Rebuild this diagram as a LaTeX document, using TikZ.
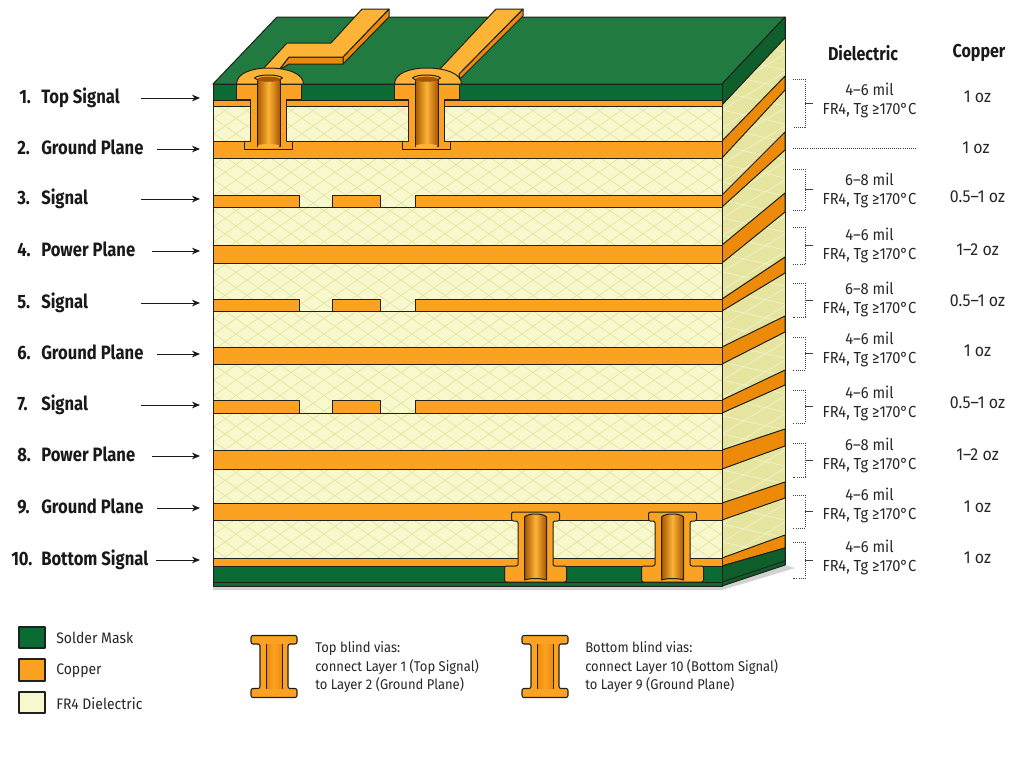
\documentclass[tikz,border=0pt]{standalone}
\usepackage{fontspec}
\setmainfont[FakeStretch=0.92,BoldFeatures={FakeStretch=0.86}]{Fira Sans}
\usetikzlibrary{calc,arrows.meta}
\definecolor{maskfront}{HTML}{0B6B34}
\definecolor{masktop}{HTML}{217B41}
\definecolor{maskside}{HTML}{0F5F2C}
\definecolor{coppercol}{HTML}{FBA222}
\definecolor{copperside}{HTML}{EE8A0A}
\definecolor{copperlight}{HTML}{FDB436}
\definecolor{copperdark}{HTML}{A85500}
\definecolor{fr4front}{HTML}{F8F8CE}
\definecolor{fr4side}{HTML}{E5E5A0}
\definecolor{hatchfront}{HTML}{E6E69E}
\definecolor{hatchside}{HTML}{F2F2C8}
\definecolor{edgecol}{HTML}{1E221A}
\tikzset{
  edge/.style={draw=edgecol,line width=0.75pt,line join=round},
  layerlab/.style={anchor=west,inner sep=0pt,text height=11pt,text depth=3pt,font=\fontsize{14.5}{17}\selectfont\bfseries,text=black!90},
  layerarrow/.style={-{Stealth[length=6pt,width=5pt]},line width=0.65pt,black!90},
  infotext/.style={inner sep=0pt,align=center,text=black!85,font=\fontsize{12}{14.2}\selectfont},
  cutext/.style={inner sep=0pt,text=black!85,font=\fontsize{13}{15}\selectfont},
  headtext/.style={inner sep=0pt,text=black!90,font=\fontsize{14}{16}\selectfont\bfseries},
  legtext/.style={anchor=west,inner sep=0pt,align=left,text=black!85,font=\fontsize{10.6}{14.2}\selectfont},
  keytext/.style={anchor=west,inner sep=0pt,text=black!85,font=\fontsize{11.4}{14}\selectfont},
  swatch/.style={edge,line width=0.8pt},
  bracketline/.style={densely dotted,line width=0.55pt,black!75}
}
\begin{document}
\begin{tikzpicture}[x=0.75pt,y=-0.75pt]
  \useasboundingbox (0,0) rectangle (1024,768);
  % shadow under the board
  \fill[gray!35] (213,586) -- (722,586) -- (785,565) -- (795,568) -- (722,590) -- (213,590) -- cycle;
  % top face and right side
  \fill[masktop,edge] (213,84) -- (277,17) -- (785,17) -- (722,84) -- cycle;
  \fill[fr4side] (722,84) -- (785,17) -- (785,565) -- (722,586) -- cycle;
  \begin{scope}
    \clip (722,84) -- (785,17) -- (785,565) -- (722,586) -- cycle;
    \foreach \y in {20,38,...,640} {
      \draw[hatchside,line width=0.55pt] (722,\y) -- (785,\y-38);
      \draw[hatchside,line width=0.55pt] (722,\y) -- (785,\y+14);
    }
  \end{scope}
  \fill[maskside,edge] (722,84) -- (785,17) -- (785,38) -- (722,105) -- cycle;
  \foreach \ya/\yb/\ra/\rb in {141/158/76/90,195/207/132/150,245/263/193/212,299/311/257/273,347/364/316/332,400/413/370/385,450/469/429/446,503/520/482/498,558/566/535/548}
    \fill[copperside,edge] (722,\ya) -- (785,\ra) -- (785,\rb) -- (722,\yb) -- cycle;
  \fill[maskside,edge] (722,566) -- (785,548) -- (785,565) -- (722,586) -- cycle;
  \draw[edge] (722,582) -- (785,561);
  \draw[edge] (785,17) -- (785,565);
  % front face
  \fill[fr4front] (213,84) rectangle (722,586);
  \begin{scope}
    \clip (213,84) rectangle (722,586);
    \foreach \x in {200,222,...,1440} {
      \draw[hatchfront,line width=0.55pt] (\x,586) -- (\x-717,84);
      \draw[hatchfront,line width=0.55pt] (\x-720,586) -- (\x-3,84);
    }
  \end{scope}
  \fill[maskfront,edge] (213,84) rectangle (722,100);
  \fill[maskfront,edge] (213,566) rectangle (722,586);
  \draw[edge] (213,582) -- (722,582);
  \foreach \ya/\yb in {100/106,141/158,245/263,347/364,450/469,503/520,558/566}
    \fill[coppercol,edge] (213,\ya) rectangle (722,\yb);
  \foreach \ya/\yb in {195/207,299/311,400/413} {
    \draw[edge] (299,\yb) -- (415,\yb);
    \fill[coppercol,edge] (213,\ya) rectangle (299,\yb);
    \fill[coppercol,edge] (332,\ya) rectangle (380,\yb);
    \fill[coppercol,edge] (415,\ya) rectangle (722,\yb);
  }
  \draw[edge] (213,84) rectangle (722,586);
  % traces on the top face
  \fill[copperside,edge] (389,9) -- (389,17) -- (343,64) -- (343,57) -- cycle;
  \fill[copperside,edge] (343,57) -- (343,64) -- (289,64) -- (279,70) -- (289,57) -- cycle;
  \fill[copperlight,edge] (262,70) -- (287,43) -- (331,43) -- (362,9) -- (389,9) -- (343,57) -- (289,57) -- (279,70) -- cycle;
  \fill[copperside,edge] (523,9) -- (523,16) -- (460,79) -- (459,74) -- cycle;
  \fill[copperlight,edge] (439,70) -- (496,9) -- (523,9) -- (459,74) -- (459,80) -- cycle;
  % top blind vias
  \foreach \vx in {268.5,426.5} {
    \fill[coppercol,edge] (\vx-32,84) -- (\vx+33,84) -- (\vx+33,99.5) -- (\vx+18,99.5) -- (\vx+18,141)
      -- (\vx+24,141) -- (\vx+24,149) -- (\vx-24,149) -- (\vx-24,141) -- (\vx-18,141)
      -- (\vx-18,99.5) -- (\vx-32,99.5) -- cycle;
    \fill[copperlight,edge] (\vx-32,84) .. controls (\vx-32,73) and (\vx-16,68) .. (\vx,68)
      .. controls (\vx+20,68) and (\vx+35,74) .. (\vx+35,84) -- cycle;
    \draw[edge,left color=copperdark,right color=copperdark,middle color=copperlight] (\vx-11.5,80) -- (\vx+11.5,80) -- (\vx+11.5,146) -- (\vx-11.5,146) -- cycle;
    \fill[copperlight] (\vx,146) ellipse (11 and 2);
    \fill[copperlight,edge] (\vx-14,78) .. controls (\vx-10,74) and (\vx+10,74) .. (\vx+14,78)
      .. controls (\vx+10,82) and (\vx-10,82) .. (\vx-14,78) -- cycle;
    \fill[copperdark] (\vx-11,78.5) .. controls (\vx-8,76) and (\vx+8,76) .. (\vx+11,78.5) -- (\vx+11,81) -- (\vx-11,81) -- cycle;
  }
  % bottom blind vias
  \foreach \vx in {535.5,672.5} {
    \fill[coppercol,edge,rounded corners=1.5pt] (\vx-24,512) -- (\vx+24,512) -- (\vx+24,521) -- (\vx+17.5,521) -- (\vx+17.5,566)
      -- (\vx+31,566) -- (\vx+31,582) -- (\vx-31,582) -- (\vx-31,566) -- (\vx-17.5,566)
      -- (\vx-17.5,521) -- (\vx-24,521) -- cycle;
    \draw[edge,left color=copperdark,right color=copperdark,middle color=copperlight] (\vx-11,580) -- (\vx-11,517) .. controls (\vx-8,513) and (\vx+8,513) .. (\vx+11,517) -- (\vx+11,580) .. controls (\vx+6,578) and (\vx-6,578) .. (\vx-11,580) -- cycle;
  }
  % layer names on the left
  \foreach \i/\num/\numx/\txt/\y/\gp in {1/1./19/Top Signal/98/21,2/2./17/Ground Plane/149/13,3/3./17/Signal/199/53,4/4./17/Power Plane/251/16,5/5./17/Signal/303/53,6/6./17/Ground Plane/354/13,7/7./17/Signal/405/53,8/8./17/Power Plane/456/16,9/9./17/Ground Plane/508/13,10/10./11/Bottom Signal/560/7} {
    \node[layerlab] (num\i) at (\numx,\y) {\num};
    \node[layerlab] (lay\i) at (41,\y) {\txt};
    \coordinate (tip\i) at (200,\y);
    \draw[layerarrow,shorten <=\gp*0.75pt] (lay\i.east) -- (lay\i.east -| tip\i);
  }
  % dielectric and copper columns
  \node[headtext] (dielhead) at (863,53) {Dielectric};
  \node[headtext] (cuhead) at (979,53) {Copper};
  \foreach \i/\thick/\ya/\yb/\ym/\yc/\oz in {1/4--6/79/127/104/97/1,3/6--8/169/210/194/197/0.5--1,4/4--6/227/264/249/250/1--2,5/6--8/283/317/303/301/0.5--1,6/4--6/337/370/353/351/1,7/4--6/390/423/407/403/0.5--1,8/6--8/443/477/459/455/1--2,9/4--6/495/528/509/507/1,10/4--6/542/578/561/558/1} {
    \draw[bracketline] (793,\ya) -- (805,\ya) -- (805,\yb) -- (793,\yb);
    \node[infotext] (diel\i) at (869.5,\ym-3.5) {\thick\ mil\\FR4, Tg ≥170°C};
    \node[cutext] (cu\i) at (977.5,\yc) {\oz\ oz};
  }
  \foreach \ym in {103,189,245,300,353,406,460,511,560}
    \draw[black!75,line width=0.5pt] (805,\ym) -- (813,\ym);
  \draw[bracketline] (793,148) -- (917,148);
  \node[cutext] (cu2) at (976,148) {1 oz};
  % legend
  \fill[maskfront,swatch] (19,627) rectangle (45,648);
  \fill[coppercol,swatch] (19,659) rectangle (45,681);
  \fill[fr4front,swatch] (19,692) rectangle (45,713);
  \node[keytext] (legmask) at (56,638) {Solder Mask};
  \node[keytext] (legcu) at (56,671) {Copper};
  \node[keytext] (legfr) at (56,704) {FR4 Dielectric};
  \foreach \lx in {274,545} {
    \fill[coppercol,swatch,rounded corners=1.5pt] (\lx-23,635.5) -- (\lx+23,635.5) -- (\lx+23,644) -- (\lx+14,644) -- (\lx+14,688.5)
      -- (\lx+23,688.5) -- (\lx+23,697.5) -- (\lx-23,697.5) -- (\lx-23,688.5) -- (\lx-14,688.5)
      -- (\lx-14,644) -- (\lx-23,644) -- cycle;
    \shade[left color=copperside,right color=copperside,middle color=coppercol] (\lx-8,644.5) rectangle (\lx+8,688);
    \draw[edge] (\lx-8,644) -- (\lx-8,688.5);
    \draw[edge] (\lx+8,644) -- (\lx+8,688.5);
  }
  \node[legtext] (legtop) at (315,667) {Top blind vias:\\connect Layer 1 (Top Signal)\\to Layer 2 (Ground Plane)};
  \node[legtext] (legbot) at (585,667) {Bottom blind vias:\\connect Layer 10 (Bottom Signal)\\to Layer 9 (Ground Plane)};
\end{tikzpicture}
\end{document}
